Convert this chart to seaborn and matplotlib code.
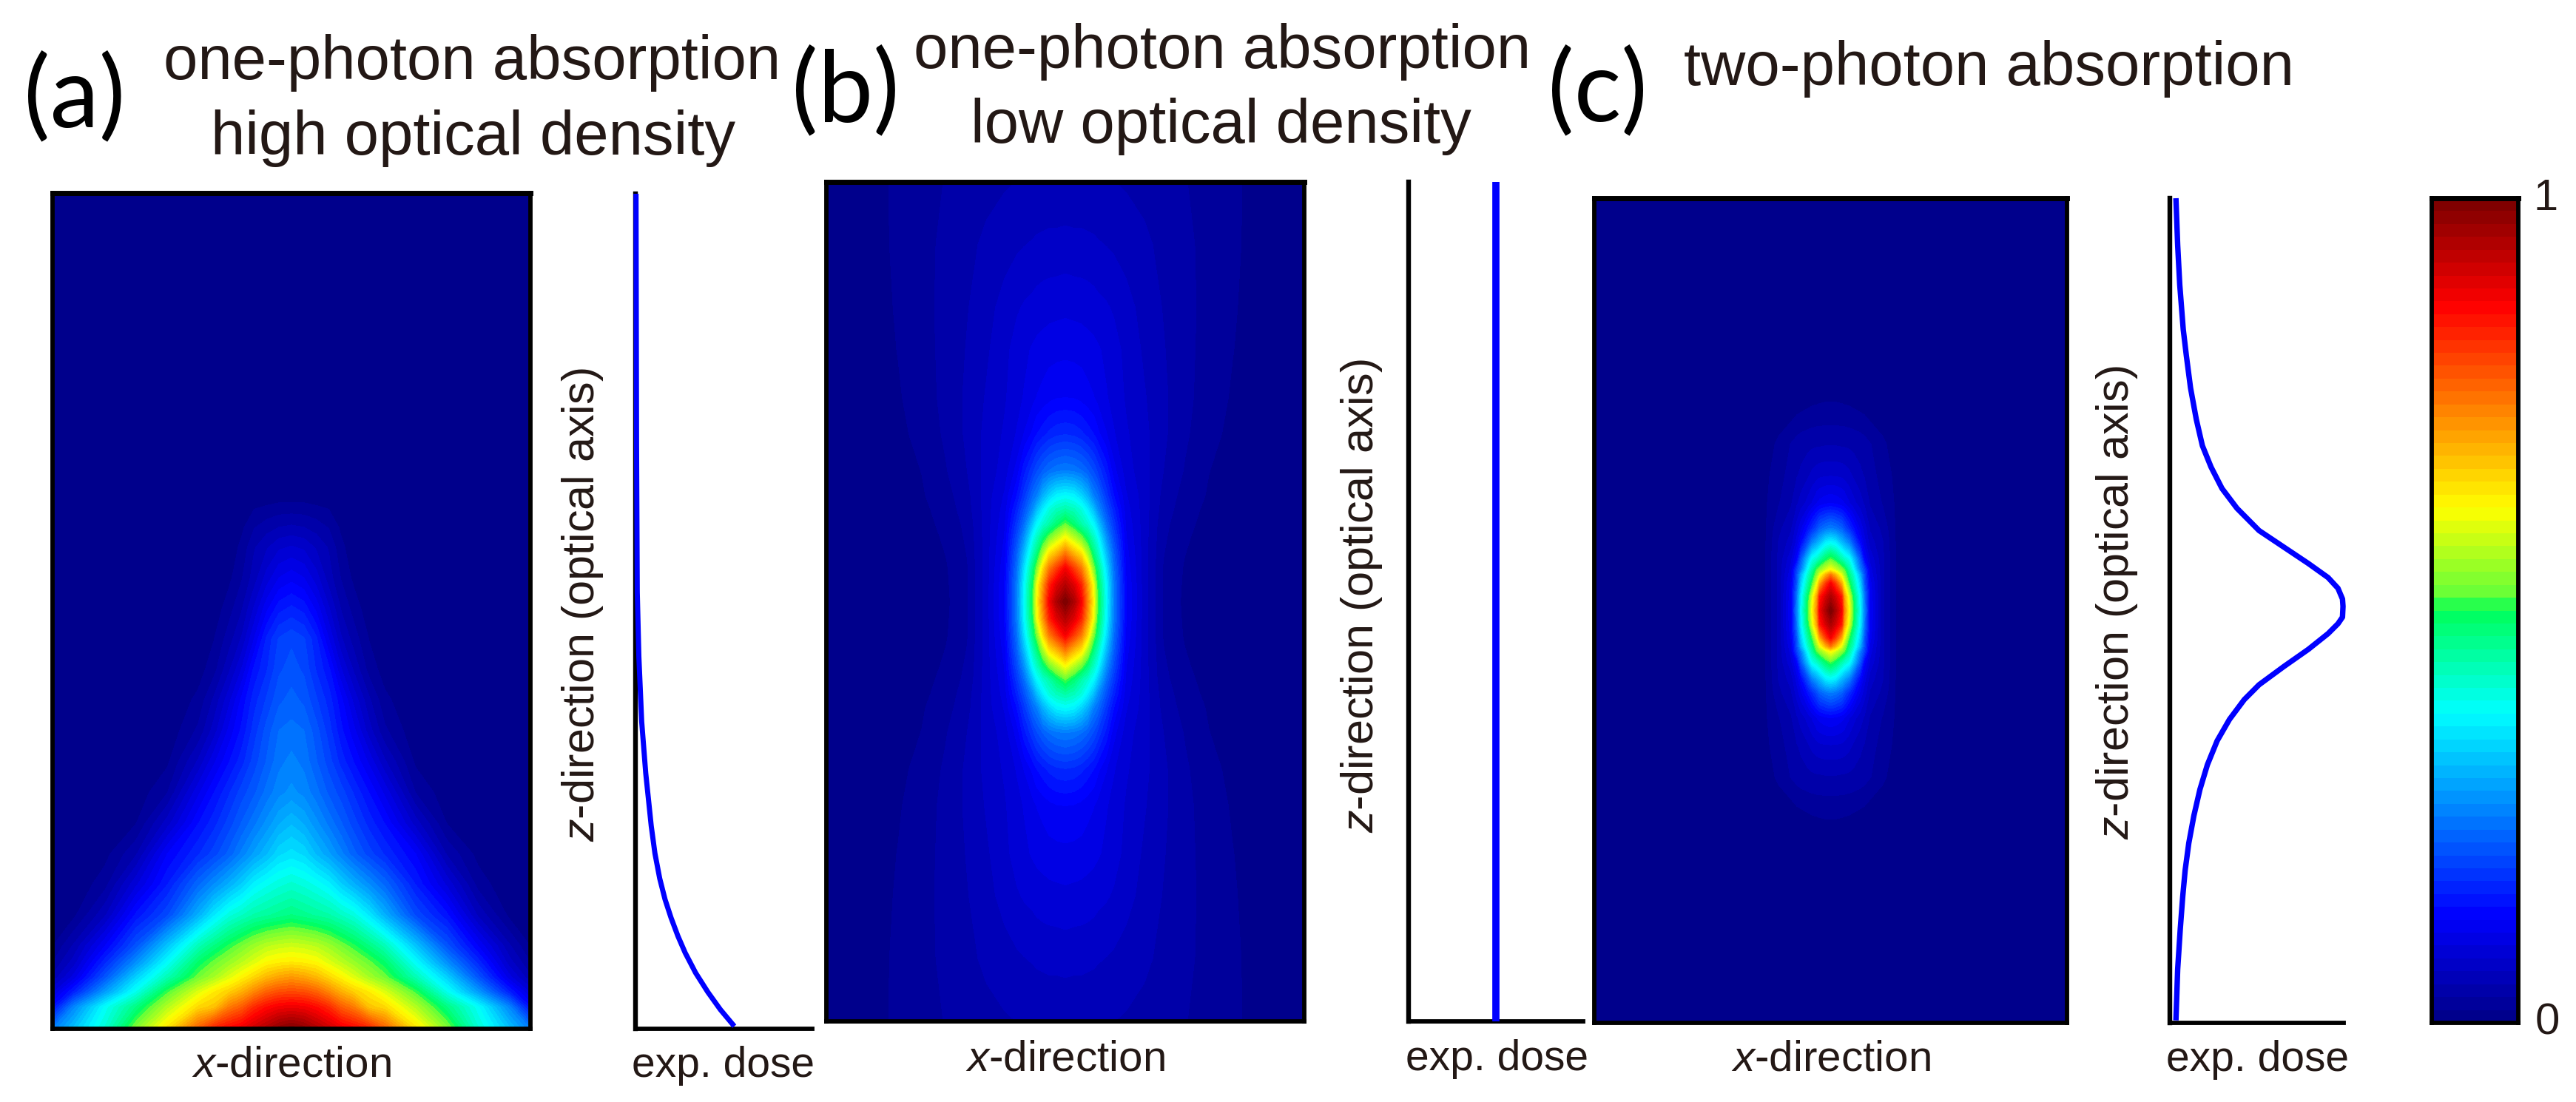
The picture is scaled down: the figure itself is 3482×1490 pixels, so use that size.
#!/usr/bin/env python3
"""Exposure dose maps for one- and two-photon absorption, three panels plus colour bar."""

import matplotlib

matplotlib.use("Agg")
import matplotlib.pyplot as plt
import numpy as np
import seaborn as sns
from matplotlib.colors import LinearSegmentedColormap

W, H = 3482, 1490
TEXT = "#231815"

# --- panel (a): half map, |x| across, z down from the top of the panel
a_x = [0, 0.052, 0.104, 0.156, 0.208, 0.26, 0.325, 0.39, 0.52, 0.65, 0.78, 0.91, 1.0]
a_z = [0, 0.36, 0.37, 0.40, 0.424, 0.461, 0.497, 0.534, 0.570, 0.607, 0.644, 0.680, 0.717,
       0.754, 0.791, 0.827, 0.864, 0.901, 0.92, 0.938, 0.956, 0.974, 1.0]
a_map = [
    [0, 0, 0, 0, 0, 0, 0, 0, 0, 0, 0, 0, 0],
    [0, 0, 0, 0, 0, 0, 0, 0, 0, 0, 0, 0, 0],
    [0.015, 0.015, 0.012, 0.01, 0.005, 0, 0, 0, 0, 0, 0, 0, 0],
    [0.05, 0.047, 0.04, 0.03, 0.012, 0.003, 0, 0, 0, 0, 0, 0, 0],
    [0.08, 0.075, 0.06, 0.045, 0.02, 0.005, 0, 0, 0, 0, 0, 0, 0],
    [0.12, 0.11, 0.085, 0.055, 0.03, 0.012, 0, 0, 0, 0, 0, 0, 0],
    [0.16, 0.15, 0.12, 0.08, 0.045, 0.025, 0.005, 0, 0, 0, 0, 0, 0],
    [0.20, 0.19, 0.16, 0.11, 0.065, 0.04, 0.015, 0, 0, 0, 0, 0, 0],
    [0.21, 0.20, 0.17, 0.145, 0.095, 0.06, 0.025, 0.008, 0, 0, 0, 0, 0],
    [0.225, 0.215, 0.19, 0.165, 0.13, 0.09, 0.05, 0.02, 0, 0, 0, 0, 0],
    [0.24, 0.235, 0.21, 0.18, 0.145, 0.115, 0.07, 0.035, 0.003, 0, 0, 0, 0],
    [0.255, 0.245, 0.22, 0.195, 0.165, 0.14, 0.105, 0.065, 0.012, 0, 0, 0, 0],
    [0.27, 0.26, 0.24, 0.215, 0.195, 0.17, 0.14, 0.105, 0.03, 0.005, 0, 0, 0],
    [0.31, 0.295, 0.27, 0.245, 0.22, 0.195, 0.165, 0.14, 0.07, 0.015, 0, 0, 0],
    [0.35, 0.34, 0.31, 0.285, 0.255, 0.225, 0.195, 0.17, 0.125, 0.045, 0.01, 0, 0],
    [0.41, 0.40, 0.385, 0.365, 0.33, 0.30, 0.265, 0.23, 0.155, 0.09, 0.025, 0.002, 0.002],
    [0.47, 0.46, 0.45, 0.44, 0.42, 0.40, 0.355, 0.30, 0.20, 0.145, 0.06, 0.012, 0.003],
    [0.59, 0.585, 0.575, 0.555, 0.53, 0.505, 0.47, 0.43, 0.32, 0.21, 0.125, 0.05, 0.015],
    [0.64, 0.635, 0.625, 0.60, 0.575, 0.55, 0.52, 0.485, 0.375, 0.265, 0.165, 0.07, 0.03],
    [0.72, 0.71, 0.69, 0.66, 0.63, 0.60, 0.56, 0.525, 0.43, 0.33, 0.21, 0.10, 0.05],
    [0.80, 0.795, 0.775, 0.74, 0.70, 0.67, 0.64, 0.60, 0.51, 0.39, 0.28, 0.16, 0.09],
    [0.885, 0.88, 0.86, 0.83, 0.78, 0.75, 0.68, 0.66, 0.57, 0.47, 0.38, 0.26, 0.14],
    [1.0, 0.98, 0.95, 0.92, 0.89, 0.87, 0.84, 0.78, 0.65, 0.54, 0.41, 0.32, 0.25],
]

# --- panel (b): quarter map, |x| across, distance from the focus down
b_x = [0, 0.036, 0.067, 0.093, 0.119, 0.134, 0.172, 0.203, 0.255, 0.33, 0.41, 0.5, 0.6, 0.7, 0.85, 1.0]
b_w = [0, 0.04, 0.08, 0.116, 0.152, 0.185, 0.22, 0.253, 0.3125, 0.40, 0.486, 0.6, 0.7, 0.85, 1.0]
b_map = [
    [1.0, 0.95, 0.875, 0.75, 0.625, 0.52, 0.375, 0.25, 0.125, 0.07, 0.03, 0.012, 0.004, 0.001, 0, 0],
    [0.94, 0.90, 0.836, 0.723, 0.61, 0.505, 0.37, 0.247, 0.125, 0.07, 0.03, 0.013, 0.005, 0.001, 0, 0],
    [0.875, 0.81, 0.75, 0.655, 0.53, 0.475, 0.345, 0.235, 0.12, 0.07, 0.03, 0.014, 0.006, 0.002, 0, 0],
    [0.75, 0.69, 0.645, 0.56, 0.47, 0.43, 0.31, 0.22, 0.115, 0.07, 0.032, 0.016, 0.007, 0.003, 0, 0],
    [0.625, 0.575, 0.53, 0.48, 0.42, 0.385, 0.27, 0.20, 0.11, 0.07, 0.034, 0.018, 0.008, 0.004, 0, 0],
    [0.52, 0.48, 0.44, 0.41, 0.37, 0.33, 0.235, 0.18, 0.105, 0.07, 0.036, 0.02, 0.01, 0.005, 0.001, 0],
    [0.44, 0.425, 0.40, 0.36, 0.31, 0.27, 0.205, 0.16, 0.10, 0.07, 0.04, 0.022, 0.012, 0.006, 0.001, 0],
    [0.375, 0.365, 0.335, 0.30, 0.25, 0.235, 0.18, 0.14, 0.095, 0.07, 0.042, 0.025, 0.014, 0.007, 0.002, 0],
    [0.25, 0.245, 0.235, 0.22, 0.20, 0.185, 0.15, 0.115, 0.085, 0.068, 0.047, 0.03, 0.016, 0.009, 0.003, 0],
    [0.17, 0.167, 0.16, 0.15, 0.14, 0.13, 0.11, 0.095, 0.08, 0.067, 0.05, 0.034, 0.02, 0.012, 0.004, 0],
    [0.125, 0.124, 0.12, 0.115, 0.11, 0.105, 0.095, 0.088, 0.076, 0.064, 0.05, 0.036, 0.023, 0.014, 0.005, 0.001],
    [0.105, 0.104, 0.103, 0.10, 0.098, 0.096, 0.09, 0.085, 0.073, 0.06, 0.048, 0.036, 0.025, 0.016, 0.006, 0.001],
    [0.09, 0.089, 0.088, 0.087, 0.085, 0.083, 0.08, 0.076, 0.068, 0.057, 0.046, 0.036, 0.026, 0.017, 0.007, 0.001],
    [0.068, 0.067, 0.067, 0.066, 0.065, 0.064, 0.062, 0.06, 0.056, 0.05, 0.043, 0.035, 0.026, 0.018, 0.008, 0.002],
    [0.05, 0.05, 0.05, 0.05, 0.05, 0.049, 0.048, 0.047, 0.045, 0.042, 0.038, 0.032, 0.025, 0.018, 0.009, 0.002],
]

# --- panel (c): quarter map, same layout as (b)
c_x = [0, 0.021, 0.047, 0.057, 0.078, 0.094, 0.125, 0.143, 0.167, 0.22, 0.28, 0.32, 1.0]
c_w = [0, 0.033, 0.066, 0.087, 0.099, 0.124, 0.165, 0.20, 0.26, 0.33, 0.404, 0.46, 0.519, 0.55, 1.0]
c_map = [
    [1.0, 0.95, 0.875, 0.75, 0.625, 0.52, 0.375, 0.25, 0.125, 0.05, 0.012, 0, 0],
    [0.95, 0.91, 0.84, 0.72, 0.60, 0.50, 0.365, 0.245, 0.122, 0.05, 0.012, 0, 0],
    [0.875, 0.81, 0.70, 0.62, 0.51, 0.45, 0.33, 0.21, 0.115, 0.05, 0.012, 0, 0],
    [0.75, 0.69, 0.60, 0.55, 0.47, 0.42, 0.30, 0.20, 0.105, 0.05, 0.012, 0, 0],
    [0.625, 0.59, 0.54, 0.52, 0.445, 0.39, 0.25, 0.19, 0.10, 0.05, 0.012, 0, 0],
    [0.52, 0.49, 0.44, 0.42, 0.39, 0.33, 0.215, 0.13, 0.09, 0.05, 0.012, 0, 0],
    [0.375, 0.36, 0.31, 0.29, 0.255, 0.21, 0.135, 0.10, 0.07, 0.048, 0.012, 0, 0],
    [0.25, 0.24, 0.22, 0.20, 0.17, 0.145, 0.105, 0.085, 0.06, 0.042, 0.012, 0, 0],
    [0.125, 0.122, 0.115, 0.11, 0.095, 0.085, 0.07, 0.06, 0.045, 0.03, 0.012, 0, 0],
    [0.075, 0.075, 0.073, 0.071, 0.066, 0.06, 0.05, 0.045, 0.037, 0.025, 0.01, 0, 0],
    [0.045, 0.045, 0.044, 0.044, 0.043, 0.042, 0.04, 0.037, 0.032, 0.02, 0.003, 0, 0],
    [0.028, 0.028, 0.027, 0.027, 0.026, 0.025, 0.022, 0.02, 0.015, 0.007, 0, 0, 0],
    [0.012, 0.012, 0.011, 0.01, 0.009, 0.007, 0.004, 0.002, 0, 0, 0, 0, 0],
    [0, 0, 0, 0, 0, 0, 0, 0, 0, 0, 0, 0, 0],
    [0, 0, 0, 0, 0, 0, 0, 0, 0, 0, 0, 0, 0],
]

# --- dose curves beside each map
dose_a_z = [0, 0.30, 0.477, 0.554, 0.632, 0.694, 0.757, 0.79, 0.82, 0.845, 0.867, 0.889,
            0.909, 0.933, 0.956, 0.977, 0.997]
dose_a = [0.003, 0.006, 0.01, 0.019, 0.035, 0.058, 0.089, 0.11, 0.137, 0.167, 0.201, 0.24,
          0.281, 0.34, 0.409, 0.48, 0.559]
dose_b_z = [0, 1]
dose_b = [0.5, 0.5]
dose_c_z = [0, 0.057, 0.105, 0.159, 0.191, 0.230, 0.268, 0.300, 0.326, 0.352, 0.376, 0.403,
            0.423, 0.443, 0.460, 0.473, 0.486, 0.495, 0.508, 0.516, 0.528, 0.547, 0.568,
            0.590, 0.608, 0.632, 0.658, 0.687, 0.717, 0.749, 0.782, 0.815, 0.847, 0.886,
            0.935, 0.997]
dose_c = [0.035, 0.045, 0.057, 0.077, 0.095, 0.119, 0.152, 0.187, 0.237, 0.30, 0.386, 0.513,
          0.655, 0.797, 0.91, 0.967, 0.993, 0.996, 0.993, 0.967, 0.91, 0.797, 0.655,
          0.513, 0.428, 0.343, 0.272, 0.216, 0.173, 0.138, 0.109, 0.088, 0.074, 0.06,
          0.045, 0.035]

title_lines = [
    ("one-photon absorption", 638, 107), ("high optical density", 640, 209),
    ("one-photon absorption", 1652, 92), ("low optical density", 1650, 193),
    ("two-photon absorption", 2688, 115),
]
panel_tags = [("(a)", 101, 171), ("(b)", 1143, 163), ("(c)", 2159, 163)]
xdir_labels = [(394, 1456), (1440, 1447), (2475, 1448)]
dose_labels = [(977, 1456), (2023, 1447), (3051, 1448)]
zdir_labels = [(788, 818), (1840, 806), (2862, 815)]

sns.set_theme(style="white")
plt.rcParams["font.family"] = ["Liberation Sans", "DejaVu Sans"]
plt.rcParams["mathtext.fontset"] = "custom"
plt.rcParams["mathtext.rm"] = "Liberation Sans"
plt.rcParams["mathtext.it"] = "Liberation Sans:italic"

# jet with 64 steps, with the harder green of the reference
dose_cmap = LinearSegmentedColormap.from_list(
    "dose",
    [
        (0.0, (0, 0, 0.55)),
        (0.125, (0, 0, 1)),
        (0.375, (0, 1, 1)),
        (0.5, (0, 1, 0.35)),
        (0.52, (0.4, 1, 0.22)),
        (0.625, (1, 1, 0)),
        (0.875, (1, 0, 0)),
        (1.0, (0.5, 0, 0)),
    ],
    N=64,
)
LEVELS = np.linspace(0, 1, 65)

fig = plt.figure(figsize=(W / 100, H / 100), dpi=100)


def add_axes_px(x0, y0, x1, y1):
    return fig.add_axes([x0 / W, 1 - y1 / H, (x1 - x0) / W, (y1 - y0) / H])


def label_px(s, x, y, **kw):
    kw.setdefault("color", TEXT)
    kw.setdefault("ha", "center")
    kw.setdefault("va", "baseline")
    return fig.text(x / W, 1 - y / H, s, **kw)


def draw_map(rect, x, z, grid):
    ax = add_axes_px(*rect)
    ax.contourf(x, z, grid, levels=LEVELS, cmap=dose_cmap, vmin=0, vmax=1)
    ax.set_xlim(-1, 1)
    ax.set_ylim(1, 0)
    ax.set_xticks([])
    ax.set_yticks([])
    for side, spine in ax.spines.items():
        spine.set_visible(True)
        spine.set_color("black")
        spine.set_linewidth(5.0 if side == "top" else 4.2)
    return ax


def draw_dose(rect, dose, z, lw):
    ax = add_axes_px(*rect)
    sns.lineplot(x=dose, y=z, orient="y", estimator=None, sort=False, color="#0000ff",
                 lw=lw, ax=ax, clip_on=False, zorder=5, solid_capstyle="butt")
    ax.set_xlim(0, 1)
    ax.set_ylim(1, 0)
    ax.set_xticks([])
    ax.set_yticks([])
    ax.set_xlabel("")
    ax.set_ylabel("")
    sns.despine(ax=ax)
    ax.spines["left"].set_color("black")
    ax.spines["left"].set_linewidth(4.6)
    ax.spines["bottom"].set_color("black")
    ax.spines["bottom"].set_linewidth(4.2)
    return ax


# maps are stored for one half / one quarter; the panels are symmetric
a_full = np.hstack([np.array(a_map)[:, :0:-1], np.array(a_map)])
a_xs = np.r_[-np.array(a_x)[:0:-1], a_x]
draw_map((71, 261, 717, 1391), a_xs, a_z, a_full)

b_half = np.hstack([np.array(b_map)[:, :0:-1], np.array(b_map)])
b_full = np.vstack([b_half[:0:-1], b_half])
b_xs = np.r_[-np.array(b_x)[:0:-1], b_x]
b_zs = 0.5 + np.r_[-np.array(b_w)[:0:-1], b_w] / 2
draw_map((1117, 246, 1763, 1381), b_xs, b_zs, b_full)

c_half = np.hstack([np.array(c_map)[:, :0:-1], np.array(c_map)])
c_full = np.vstack([c_half[:0:-1], c_half])
c_xs = np.r_[-np.array(c_x)[:0:-1], c_x]
c_zs = 0.5 + np.r_[-np.array(c_w)[:0:-1], c_w] / 2
draw_map((2155, 268, 2794, 1383), c_xs, c_zs, c_full)

draw_dose((859, 262, 1098, 1391), dose_a, dose_a_z, 5.0)
draw_dose((1904, 246, 2140, 1381), dose_b, dose_b_z, 7.0)
draw_dose((2933, 268, 3168, 1383), dose_c, dose_c_z, 5.3)

# colour bar, 64 steps, top is 1
cb_ax = add_axes_px(3287, 268, 3404, 1383)
cb_steps = np.arange(63, -1, -1).reshape(-1, 1) / 63
sns.heatmap(cb_steps, ax=cb_ax, cmap=dose_cmap, vmin=0, vmax=1, cbar=False,
            xticklabels=False, yticklabels=False)
for side, spine in cb_ax.spines.items():
    spine.set_visible(True)
    spine.set_color("black")
    spine.set_linewidth(5.0 if side == "top" else 4.2)

label_px("1", 3441, 268, fontsize=43, va="center")
label_px("0", 3443, 1383, fontsize=43, va="center")

for s, x, y in title_lines:
    label_px(s, x, y, fontsize=60)
for s, x, y in panel_tags:
    label_px(s, x, y, fontsize=96, family=["Lato", "DejaVu Sans"], color="black")
for x, y in xdir_labels:
    label_px(r"$\mathit{x}$-direction", x, y, fontsize=42)
for x, y in dose_labels:
    label_px("exp. dose", x, y, fontsize=41)
for x, y in zdir_labels:
    label_px(r"$\mathit{z}$-direction (optical axis)", x, y, fontsize=44, rotation=90,
             va="center", ha="center")

fig.savefig("out.png", dpi=100)
